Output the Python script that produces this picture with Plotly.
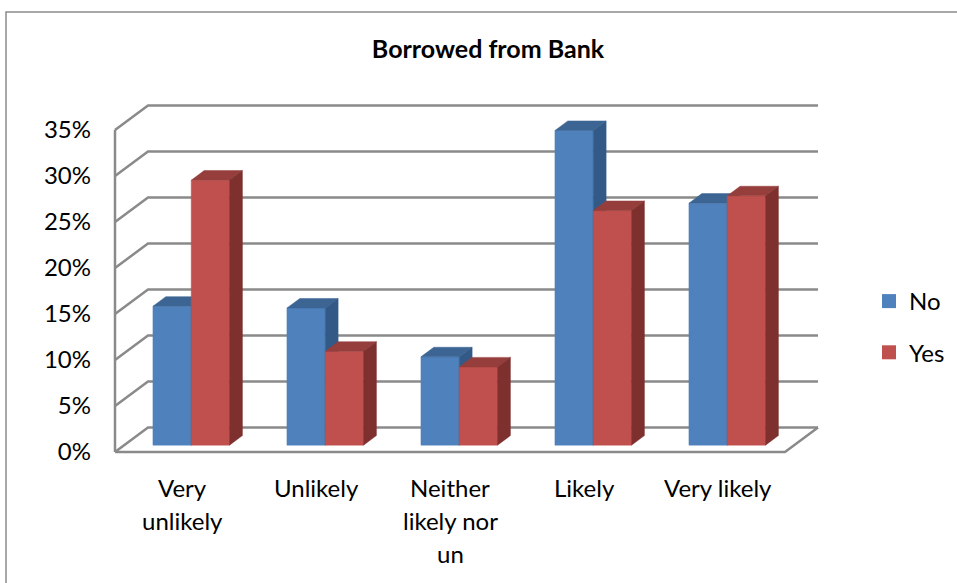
import plotly.graph_objects as go

# ---- data ----
categories = ["Very unlikely", "Unlikely", "Neither likely nor un", "Likely", "Very likely"]
category_lines = [["Very", "unlikely"], ["Unlikely"], ["Neither", "likely nor", "un"], ["Likely"], ["Very likely"]]
series_names = ["No", "Yes"]
no_values = [15.1, 14.9, 9.6, 34.2, 26.3]
yes_values = [28.8, 10.2, 8.5, 25.5, 27.1]
y_ticks = [0, 5, 10, 15, 20, 25, 30, 35]

# ---- style ----
FONT = "Lato"
FS = 24
GRID = "#8a8a8a"
colors = {
    "No": {"front": "#4F81BD", "top": "#3C6594", "side": "#335A87"},
    "Yes": {"front": "#C0504D", "top": "#953E3C", "side": "#7E302F"},
}

# page geometry
W, H = 957, 583
ML, MR, MT, MB = 110, 135, 100, 123
PX_PER_CAT = 134.0
PX_PER_PCT = 9.2
plot_w = W - ML - MR
plot_h = H - MT - MB
x_min = -5 / PX_PER_CAT
x_max = x_min + plot_w / PX_PER_CAT
y_min = -8 / PX_PER_PCT
y_max = y_min + plot_h / PX_PER_PCT

# oblique depth vector (full floor depth) in data units
DX = 33 / PX_PER_CAT
DY = 24.5 / PX_PER_PCT
T0, T1 = 0.28, 0.67          # bar front/back depth fractions
BAR_W = 1 / 3.5              # gap width 150%
GAP = 0.75 * BAR_W
N = len(categories)

fig = go.Figure()


def seg(xs, ys, width=2.5):
    fig.add_trace(go.Scatter(x=xs, y=ys, mode="lines", line=dict(color=GRID, width=width),
                             hoverinfo="skip", showlegend=False))


# walls and floor
for g in y_ticks:
    seg([0, DX, N + DX], [g, g + DY, g + DY])
seg([0, 0], [0, y_ticks[-1]])
seg([0, N, N + DX], [0, 0, DY])


def poly(xs, ys, color):
    fig.add_trace(go.Scatter(x=xs + [xs[0]], y=ys + [ys[0]], mode="lines", fill="toself",
                             fillcolor=color, line=dict(color=color, width=0.5),
                             hoverinfo="skip", showlegend=False))


# 3-D columns, drawn left to right
for i in range(N):
    for j, (name, vals) in enumerate(zip(series_names, [no_values, yes_values])):
        c = colors[name]
        v = vals[i]
        x0 = i + GAP + j * BAR_W + T0 * DX
        x1 = x0 + BAR_W
        yb = T0 * DY
        yt = yb + v
        ddx = (T1 - T0) * DX
        ddy = (T1 - T0) * DY
        poly([x0, x1, x1, x0], [yb, yb, yt, yt], c["front"])
        poly([x0, x1, x1 + ddx, x0 + ddx], [yt, yt, yt + ddy, yt + ddy], c["top"])
        poly([x1, x1 + ddx, x1 + ddx, x1], [yb, yb + ddy, yt + ddy, yt], c["side"])

# legend entries
for name in series_names:
    fig.add_trace(go.Scatter(x=[None], y=[None], mode="markers", name=name, legendgroup=name,
                             marker=dict(symbol="square", size=14, color=colors[name]["front"])))

# category labels below the floor
annotations = []
for i, lines in enumerate(category_lines):
    for k, line in enumerate(lines):
        annotations.append(dict(x=i + 0.5, y=0, xref="x", yref="paper", text=line,
                                showarrow=False, xanchor="center", yanchor="middle",
                                yshift=-(27 + 33 * k),
                                font=dict(family=FONT, size=FS, color="#000")))

fig.update_layout(
    width=W, height=H,
    margin=dict(l=ML, r=MR, t=MT, b=MB, pad=0, autoexpand=False),
    paper_bgcolor="white", plot_bgcolor="white",
    title=dict(text="<b>Borrowed from Bank</b>", x=488 / W, xanchor="center",
               y=1 - 49 / H, yanchor="middle", font=dict(family=FONT, size=25, color="#000")),
    xaxis=dict(range=[x_min, x_max], showgrid=False, zeroline=False, showline=False,
               showticklabels=False, ticks="", fixedrange=True),
    yaxis=dict(range=[y_min, y_max], showgrid=False, zeroline=False, showline=False,
               tickvals=y_ticks, ticktext=[f"{t}%" for t in y_ticks], ticks="",
               ticklabelstandoff=18, tickfont=dict(family=FONT, size=FS, color="#000"),
               fixedrange=True),
    legend=dict(x=(869 - ML) / plot_w, xanchor="left", y=(H - MB - 327) / plot_h,
                yanchor="middle", font=dict(family=FONT, size=FS, color="#000"),
                tracegroupgap=17, traceorder="grouped", bgcolor="rgba(0,0,0,0)"),
    annotations=annotations,
    shapes=[dict(type="rect", xref="paper", yref="paper",
                 x0=(6 - ML) / plot_w, x1=(W + 5 - ML) / plot_w,
                 y0=-(MB + 10) / plot_h, y1=(H - MB - 12) / plot_h,
                 line=dict(color="#8c8c8c", width=1.5), layer="below")],
    showlegend=True,
)

fig.write_html("out.html")
